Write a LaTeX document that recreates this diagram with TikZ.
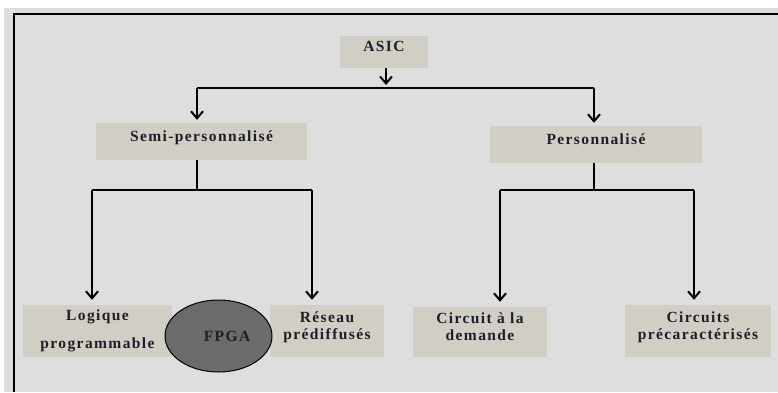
\documentclass[tikz,border=0pt]{standalone}
\usepackage{fontspec}
\setmainfont{Liberation Serif}
\newfontfamily\boxfont[LetterSpace=9]{Liberation Serif}
\usepackage{tikz}
\usetikzlibrary{shapes, arrows.meta, positioning, calc}
\definecolor{backgray}{HTML}{DEDEDE}
\definecolor{boxgray}{HTML}{D1CEC6}
\definecolor{fpgagray}{HTML}{6B6B6B}
\definecolor{inkdark}{HTML}{1E1E28}

\begin{document}
\begin{tikzpicture}[x=1pt, y=-1pt,
	box/.style={fill=boxgray, text=inkdark, font=\boxfont\bfseries\fontsize{15.5}{17}\selectfont, align=center, inner sep=0pt},
	raised/.style={text height=11pt, text depth=12pt},
	bar/.style={line width=1.8pt},
	arr/.style={bar, -{Straight Barb[length=7pt,width=12pt,line width=2pt]}, shorten >=3pt}]
	\useasboundingbox (0,0) rectangle (778,392);
	\fill[backgray] (4,8) rectangle (778,392);
	\draw[line width=1.5pt] (14,392) -- (14,14) -- (778,14);

	\node[box, raised, minimum width=88, minimum height=32] at (384,52) (asic) {ASIC};
	\node[box, raised, minimum width=211, minimum height=37] at (201.5,141.5) (semi) {Semi-personnalisé};
	\node[box, raised, minimum width=212, minimum height=37] at (596,144.5) (perso) {Personnalisé};
	\node[box, minimum width=149, minimum height=52] at (97.5,331) (logique) {Logique\\[11pt]programmable};
	\node[box, text depth=10pt, minimum width=114, minimum height=52] at (327,331) (reseau) {Réseau\\prédiffusés};
	\node[box, text depth=10pt, minimum width=134, minimum height=50] at (480,332) (demande) {Circuit à la\\demande};
	\node[box, text depth=10pt, minimum width=146, minimum height=52] at (698,331) (precar) {Circuits\\précaractérisés};
	\node[ellipse, draw, line width=1pt, fill=fpgagray, text=inkdark, font=\boxfont\bfseries\fontsize{15.5}{17}\selectfont,
		minimum width=107, minimum height=72, inner sep=0pt] at (218.5,336) (fpga) {\hspace*{17pt}FPGA};

	\coordinate (topL) at (197,88);
	\coordinate (topR) at (594,88);
	\coordinate (semiL) at (92,190);
	\coordinate (semiR) at (312,190);
	\coordinate (persoL) at (500,190);
	\coordinate (persoR) at (694,190);

	\draw[arr] (asic.south -| 386,0) -- (386,88);
	\foreach \up/\parent/\split in {topL/semi/semiL, topR/perso/persoL}
		\draw[bar] (\parent.south -| \up) -- (\up |- \split);
	\foreach \l/\r in {topL/topR, semiL/semiR, persoL/persoR}
		\draw[bar] (\l) -- (\r);
	\foreach \from/\to in {topL/semi, topR/perso}
		\draw[arr] (\from) -- (\from |- \to.north);
	\foreach \from/\to in {semiL/logique, semiR/reseau, persoL/demande, persoR/precar}
		\draw[arr, shorten >=5pt] (\from) -- (\from |- \to.north);
\end{tikzpicture}
\end{document}
